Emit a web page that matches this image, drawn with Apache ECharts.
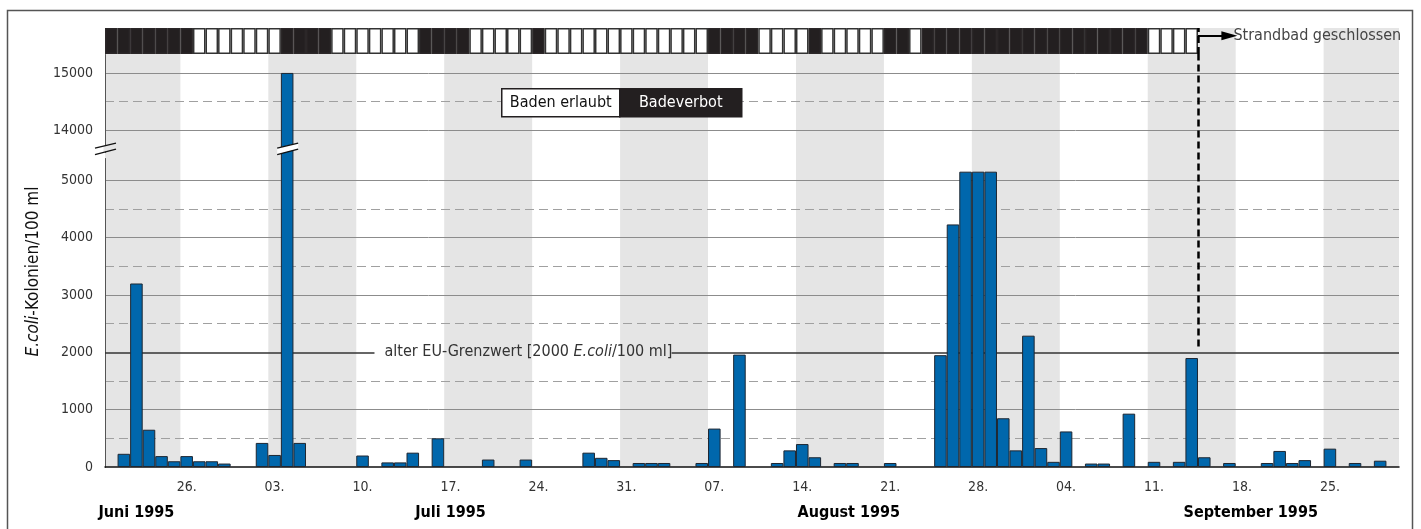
<!DOCTYPE html>
<html>
<head>
<meta charset="utf-8">
<script src="https://cdn.jsdelivr.net/npm/echarts@6.0.0/dist/echarts.min.js"></script>
<style>
  html, body { margin: 0; padding: 0; background: #fff; }
  #chart { width: 1421px; height: 529px; }
</style>
</head>
<body>
<div id="chart"></div>
<script>
const FONT = '"Liberation Sans Narrow", "DejaVu Sans Condensed", "Roboto Condensed", "Liberation Sans", sans-serif';

// day 0 = 20. Juni 1995 ... day 102 = 30. September 1995
const dayCount = 103;

// E.coli per 100 ml, one entry per day, null = no sample
const ecoli = [
  null, 230, 3200, 650, 190, 100, 190, 100, 100, 60,          // 20.06.-29.06.
  null, null, 420, 210, 15000, 420, null, null, null, null,   // 30.06.-09.07.
  200, null, 80, 80, 250, null, 500, null, null, null,        // 10.07.-19.07.
  130, null, null, 130, null, null, null, null, 250, 160,     // 20.07.-29.07.
  120, null, 70, 70, 70, null, null, 70, 670, null,           // 30.07.-08.08.
  1960, null, null, 70, 290, 400, 170, null, 70, 70,          // 09.08.-18.08.
  null, null, 70, null, null, null, 1950, 4230, 5150, 5150,   // 19.08.-28.08.
  5150, 850, 290, 2290, 330, 90, 620, null, 60, 60,           // 29.08.-07.09.
  null, 930, null, 90, null, 90, 1900, 170, null, 70,         // 08.09.-17.09.
  null, null, 70, 280, 70, 120, null, 320, null, 70,          // 18.09.-27.09.
  null, 110, null                                             // 28.09.-30.09.
];

// 1 = Badeverbot, 0 = Baden erlaubt (until 14.09., then beach closed)
const bathing = [
  1, 1, 1, 1, 1, 1, 1,  0, 0, 0, 0, 0, 0, 0,
  1, 1, 1, 1,  0, 0, 0, 0, 0, 0, 0,
  1, 1, 1, 1,  0, 0, 0, 0, 0,  1,
  0, 0, 0, 0, 0, 0, 0, 0, 0, 0, 0, 0, 0,
  1, 1, 1, 1,  0, 0, 0, 0,  1,  0, 0, 0, 0, 0,
  1, 1,  0,
  1, 1, 1, 1, 1, 1, 1, 1, 1, 1, 1, 1, 1, 1, 1, 1, 1, 1,
  0, 0, 0, 0
];
const closedDay = 87; // 15.09.

// grey weeks (Mon-Sun), as day ranges
const greyWeeks = [[0, 6], [13, 20], [27, 34], [41, 48], [55, 62], [69, 76], [83, 90], [97, 103]];

// Mondays and their tick labels
const mondays = [6, 13, 20, 27, 34, 41, 48, 55, 62, 69, 76, 83, 90, 97];
const tickLabels = ['26.', '03.', '10.', '17.', '24.', '31.', '07.', '14.', '21.', '28.', '04.', '11.', '18.', '25.'];

const monthNames = ['Juni 1995', 'Juli 1995', 'August 1995', 'September 1995'];
const monthPos = [2.5, 27.5, 59.2, 91.2];

// y grid lines (every 500, solid at the thousands, dashed in between)
const gridValues = [500, 1000, 1500, 2000, 2500, 3000, 3500, 4000, 4500, 5000, 14000, 14500, 15000];

const limitValue = 2000;
const yMax = 15330;
const yBreak = { start: 5380, end: 13620, gap: 112 };
const breakMarkValue = 13680;

const chart = echarts.init(document.getElementById('chart'), null, { renderer: 'canvas' });

const barData = [];
ecoli.forEach((v, i) => { if (v !== null) barData.push([i + 0.5, v]); });

const stripData = bathing.map((s, i) => ({
  value: [i + 0.5, 1],
  itemStyle: s ? { color: '#231f20', borderColor: '#2b2728' } : { color: '#ffffff', borderColor: '#333' }
}));

const solidColors = gridValues.map(v => (v % 1000 === 0 && v !== limitValue ? '#8c8c8c' : 'rgba(0,0,0,0)'));
const dashColors = gridValues.map(v => (v % 1000 === 500 ? '#a0a0a0' : 'rgba(0,0,0,0)'));

function weekBand(params, api) {
  const x0 = api.coord([api.value(0), 0])[0];
  const x1 = api.coord([api.value(1), 0])[0];
  const cs = params.coordSys;
  return {
    type: 'rect',
    shape: { x: x0, y: cs.y, width: x1 - x0, height: cs.height },
    style: { fill: '#e5e5e5' }
  };
}

const option = {
  animation: false,
  textStyle: { fontFamily: FONT },
  grid: [
    { left: 105, right: 22, top: 54, bottom: 62 },
    { left: 105, right: 22, top: 28, height: 26 }
  ],
  xAxis: [
    {
      type: 'value', gridIndex: 0, min: 0, max: dayCount,
      axisLine: { show: true, onZero: false, lineStyle: { color: '#111', width: 1.5 } },
      axisTick: { show: false },
      splitLine: { show: false },
      axisLabel: {
        customValues: mondays.map(d => d + 0.5),
        formatter: v => tickLabels[Math.round((v - 6.5) / 7)],
        margin: 13, fontFamily: FONT, fontSize: 14, color: '#333'
      }
    },
    {
      type: 'value', gridIndex: 0, min: 0, max: dayCount, position: 'bottom',
      axisLine: { show: false }, axisTick: { show: false }, splitLine: { show: false },
      axisLabel: {
        customValues: monthPos,
        formatter: v => monthNames[monthPos.indexOf(v)],
        margin: 38, fontFamily: FONT, fontSize: 16, fontWeight: 'bold', color: '#000'
      }
    },
    { type: 'value', gridIndex: 1, min: 0, max: dayCount, show: false }
  ],
  yAxis: [
    {
      type: 'value', gridIndex: 0, min: 0, max: yMax, interval: 500,
      breaks: [yBreak],
      breakArea: { show: false },
      name: '{i|E.coli}-Kolonien/100 ml',
      nameLocation: 'middle', nameGap: 60,
      nameTextStyle: {
        fontFamily: FONT, fontSize: 17, color: '#111', padding: [0, 22, 0, 0],
        rich: { i: { fontFamily: FONT, fontSize: 17, fontStyle: 'italic', color: '#111' } }
      },
      axisLine: { show: true, lineStyle: { color: '#555', width: 1 } },
      axisTick: { show: false },
      axisLabel: {
        margin: 12, fontFamily: FONT, fontSize: 14, color: '#333',
        formatter: v => (v % 1000 === 0 ? String(v) : '')
      },
      splitLine: { show: true, showMinLine: false, showMaxLine: false, lineStyle: { color: solidColors, width: 1 } }
    },
    {
      // second axis on the main grid, only for the dashed half-step lines
      type: 'value', gridIndex: 0, min: 0, max: yMax, interval: 500, position: 'right',
      breaks: [yBreak],
      breakArea: { show: false },
      axisLine: { show: false }, axisTick: { show: false }, axisLabel: { show: false },
      splitLine: { show: true, showMinLine: false, showMaxLine: false, lineStyle: { color: dashColors, width: 1, type: [9, 5] } }
    },
    { type: 'value', gridIndex: 1, min: 0, max: 1, show: false }
  ],
  series: [
    {
      type: 'custom', name: 'weeks', xAxisIndex: 0, yAxisIndex: 0, z: -1, silent: true,
      renderItem: weekBand, encode: { x: [0, 1] }, data: greyWeeks
    },
    {
      type: 'custom', name: 'weeksTop', xAxisIndex: 2, yAxisIndex: 2, z: -1, silent: true,
      renderItem: weekBand, encode: { x: [0, 1] }, data: greyWeeks
    },
    {
      type: 'bar', name: 'E.coli', xAxisIndex: 0, yAxisIndex: 0,
      barCategoryGap: '0%', data: barData,
      itemStyle: { color: '#0067ac', borderColor: '#1e2732', borderWidth: 1 },
      markLine: {
        z: 1, silent: true, symbol: 'none',
        lineStyle: { color: '#333', width: 1.5, type: 'solid' },
        label: { show: false },
        data: [
          [
            {
              coord: [0, limitValue],
              label: {
                show: true, position: 'end', distance: 10,
                formatter: 'alter EU-Grenzwert [2000 {i|E.coli}/100 ml]',
                fontFamily: FONT, fontSize: 16, color: '#333',
                rich: { i: { fontFamily: FONT, fontSize: 16, fontStyle: 'italic', color: '#333' } }
              }
            },
            { coord: [21.45, limitValue] }
          ],
          [{ coord: [45.1, limitValue] }, { coord: [dayCount, limitValue] }],
          [
            { coord: [closedDay, 2100], lineStyle: { color: '#000', width: 2.5, type: [7, 4] } },
            { coord: [closedDay, yMax] }
          ]
        ]
      }
    },
    {
      type: 'bar', name: 'Baden', xAxisIndex: 2, yAxisIndex: 2,
      barCategoryGap: '0%', data: stripData,
      itemStyle: { borderWidth: 1.5 },
      markLine: {
        silent: true, symbol: 'none',
        data: [
          [
            { coord: [closedDay, 0], lineStyle: { color: '#000', width: 2.5, type: [7, 4] } },
            { coord: [closedDay, 1] }
          ],
          [
            {
              coord: [closedDay, 0.7], symbol: 'none',
              lineStyle: { color: '#000', width: 2, type: 'solid' },
              label: {
                show: true, position: 'end', distance: 4,
                formatter: 'Strandbad geschlossen',
                fontFamily: FONT, fontSize: 16, color: '#444'
              }
            },
            { coord: [closedDay + 2.5, 0.7], symbol: 'triangle', symbolSize: [9, 16], symbolRotate: -90 }
          ]
        ]
      }
    }
  ],
  graphic: [
    {
      type: 'rect', silent: true, z: 100,
      shape: { x: 7.5, y: 10.5, width: 1405, height: 530 },
      style: { fill: 'none', stroke: '#555', lineWidth: 1.5 }
    },
    {
      type: 'group', left: 501, top: 88, z: 100, silent: true,
      children: [
        { type: 'rect', z: 100, shape: { x: 0, y: 0, width: 118, height: 28 }, style: { fill: '#fff', stroke: '#231f20', lineWidth: 1.5 } },
        { type: 'text', z: 101, x: 59, y: 14, style: { text: 'Baden erlaubt', fill: '#111', font: '16px ' + FONT, textAlign: 'center', textVerticalAlign: 'middle' } },
        { type: 'rect', z: 100, shape: { x: 118, y: 0, width: 122, height: 28 }, style: { fill: '#231f20', stroke: '#231f20', lineWidth: 1.5 } },
        { type: 'text', z: 101, x: 179, y: 14, style: { text: 'Badeverbot', fill: '#fff', font: '16px ' + FONT, textAlign: 'center', textVerticalAlign: 'middle' } }
      ]
    }
  ]
};

chart.setOption(option);

// break marks "//" on the axis and on the cut bar
const cy = chart.convertToPixel({ yAxisIndex: 0 }, breakMarkValue);
const axisX = chart.convertToPixel({ xAxisIndex: 0 }, 0);
const cutDay = ecoli.indexOf(Math.max(...ecoli.filter(v => v !== null)));
const barX = chart.convertToPixel({ xAxisIndex: 0 }, cutDay + 0.5);

function breakMark(cx, onBar) {
  const items = [];
  if (onBar) {
    items.push({
      type: 'polygon', silent: true, z: 50,
      shape: { points: [[cx - 10, cy - 0.5], [cx + 11, cy - 5.5], [cx + 11, cy + 0.5], [cx - 10, cy + 6]] },
      style: { fill: '#fff' }
    });
  } else {
    items.push({ type: 'rect', silent: true, z: 50, shape: { x: cx - 1.5, y: cy - 3, width: 3, height: 6 }, style: { fill: '#e5e5e5' } });
  }
  items.push({ type: 'line', silent: true, z: 51, shape: { x1: cx - 10, y1: cy - 0.5, x2: cx + 11, y2: cy - 5.5 }, style: { stroke: '#111', lineWidth: 1.3 } });
  items.push({ type: 'line', silent: true, z: 51, shape: { x1: cx - 10, y1: cy + 6, x2: cx + 11, y2: cy + 0.5 }, style: { stroke: '#111', lineWidth: 1.3 } });
  return items;
}

chart.setOption({
  graphic: option.graphic.concat(breakMark(axisX, false), breakMark(barX, true))
});

window.addEventListener('resize', function () {
  chart.resize();
});
</script>
</body>
</html>
